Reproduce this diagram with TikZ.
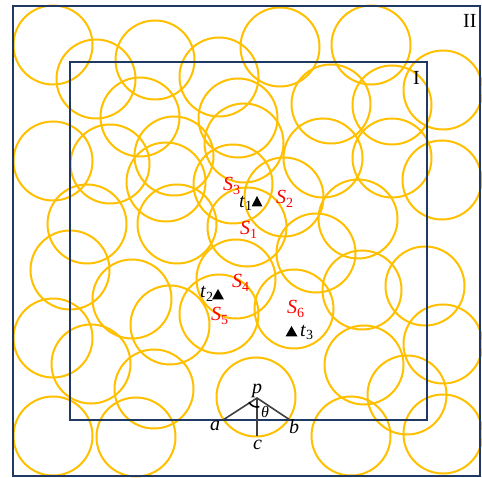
\documentclass[tikz,border=0pt]{standalone}
\usepackage{fontspec}
\setmainfont{Liberation Serif}
\definecolor{cyel}{HTML}{FFC000}
\definecolor{cnavy}{HTML}{203864}
\definecolor{cred}{HTML}{FF0000}
\definecolor{cgray}{HTML}{404040}
\newcommand{\lbl}[2]{\textit{#1}\textsubscript{#2}}
\begin{document}
\begin{tikzpicture}[x=1pt,y=-1pt,
  cov/.style={draw=cyel, line width=2pt},
  frm/.style={draw=cnavy, line width=2.2pt},
  slab/.style={text=cred, inner sep=0pt, anchor=base west, font=\fontsize{20}{24}\selectfont},
  tlab/.style={text=black, inner sep=0pt, anchor=base west, font=\fontsize{20}{24}\selectfont},
  tri/.style={fill=black},
  seg/.style={draw=cgray, line width=1.6pt}]
\useasboundingbox (0,0) rectangle (482,478);
\fill[white] (0,0) rectangle (482,478);
% coverage circles
\foreach \cx/\cy in {53/45, 96/79, 155/60, 219/77, 280/47, 371/45, 443/90,
  331/104, 392/105, 140/117, 238/118, 244/143, 53/161, 110/164, 174/156,
  166/182, 233/184, 323/158, 392/158, 442/180, 284/197, 87/224, 177/224,
  247/227, 358/219, 316/253, 70/270, 132/299, 236/279, 219/314, 170/325,
  294/309, 362/290, 425/286, 53/338, 91/364, 154/389, 256/397, 364/365,
  443/344, 407/395, 53/436, 136/437, 351/436, 443/434}
  \draw[cov] (\cx,\cy) circle[radius=39.5];
% frames
\draw[frm] (13,6) rectangle (480,476);
\draw[frm] (70,62) rectangle (427,420);
\node[tlab] (II) at (463,28) {II};
\node[tlab] (I) at (413,85) {I};
% targets
\fill[tri] (251.5,206.5) -- (262.5,206.5) -- (257,196) -- cycle;
\fill[tri] (212,299.5) -- (224,299.5) -- (218,289) -- cycle;
\fill[tri] (285.5,336.5) -- (297.5,336.5) -- (291.5,326) -- cycle;
\node[tlab] (t1) at (239,207.5) {\lbl{t}{1}};
\node[tlab] (t2) at (200,298) {\lbl{t}{2}};
\node[tlab] (t3) at (300,336.5) {\lbl{t}{3}};
% sensor labels
\node[slab] (s1) at (240,235) {\lbl{S}{1}};
\node[slab] (s2) at (276,204) {\lbl{S}{2}};
\node[slab] (s3) at (223,191) {\lbl{S}{3}};
\node[slab] (s4) at (232,288) {\lbl{S}{4}};
\node[slab] (s5) at (211,321) {\lbl{S}{5}};
\node[slab] (s6) at (287,314) {\lbl{S}{6}};
% angle construction
\coordinate (p) at (257,398);
\coordinate (a) at (223,420);
\coordinate (b) at (290,420);
\coordinate (c) at (257,436);
\draw[seg] (a) -- (p) -- (b);
\draw[seg] (p) -- (c);
\draw[black, line width=1.6pt] (p) ++(152:9) arc[start angle=152, end angle=75, radius=9];
\node[tlab] (pl) at (252,393) {\textit{p}};
\node[tlab] (al) at (210,430) {\textit{a}};
\node[tlab] (bl) at (289,433) {\textit{b}};
\node[tlab] (cl) at (253,449) {\textit{c}};
\node[tlab, font=\fontsize{16}{19}\selectfont] (th) at (261,417) {\textit{θ}};
\end{tikzpicture}
\end{document}
